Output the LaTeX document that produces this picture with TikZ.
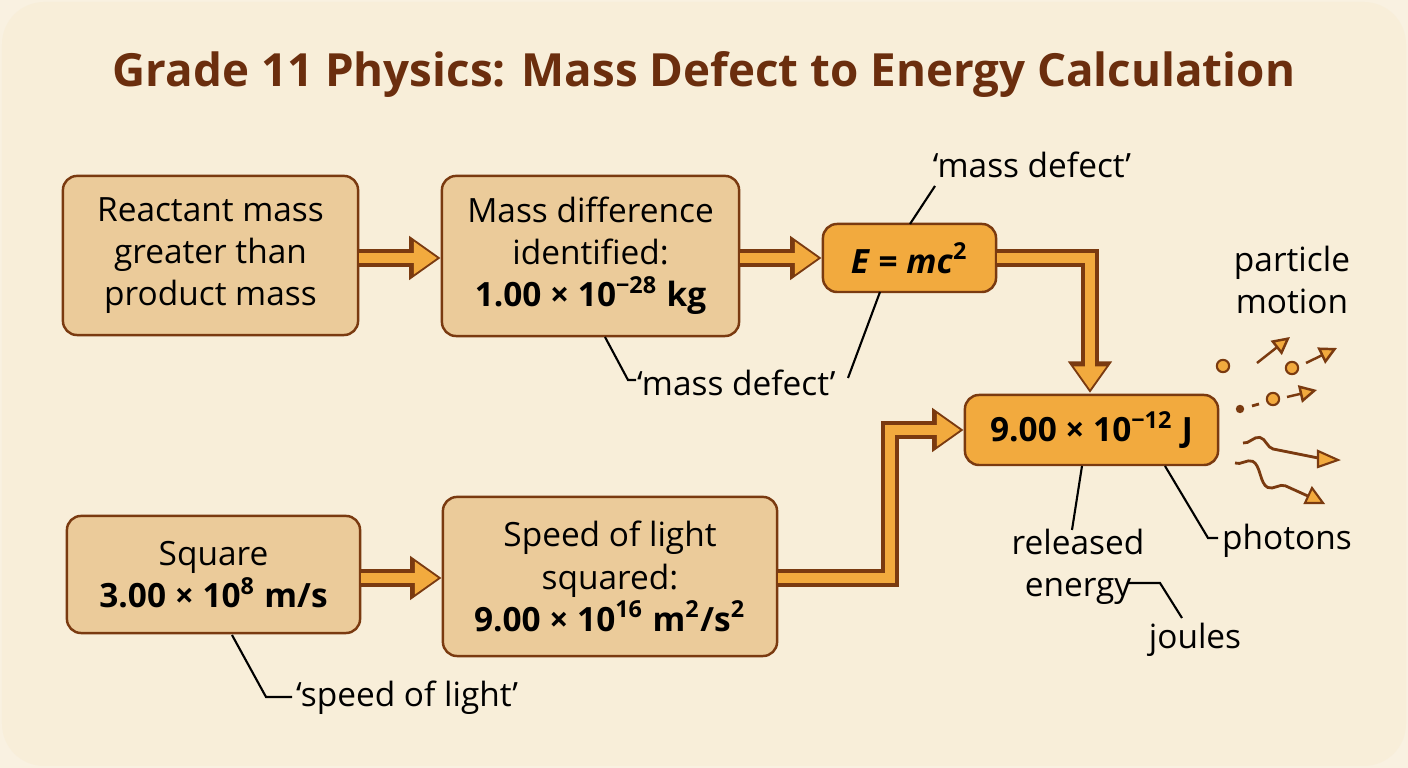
\documentclass[tikz,border=0pt]{standalone}
\usepackage{fontspec}
\setmainfont{Open Sans}
\usetikzlibrary{arrows.meta,decorations.pathmorphing}
\definecolor{bg}{HTML}{F8EED9}
\definecolor{tan}{HTML}{EBCB9A}
\definecolor{org}{HTML}{F2AA3E}
\definecolor{brn}{HTML}{7A3A10}
\definecolor{ttl}{HTML}{6B2E0E}
\begin{document}
\begin{tikzpicture}[x=0.01cm,y=-0.01cm,
  box/.style={draw=brn,line width=0.7pt,rounded corners=4pt,fill=tan,align=center,font=\fontsize{9.5}{12}\selectfont,inner sep=0pt},
  obox/.style={box,fill=org},
  fat/.style={line width=5pt,brn,-{Triangle[length=9pt,width=12pt]}},
  fatin/.style={line width=3pt,org,-{Triangle[length=6.6pt,width=8.8pt]},shorten >=1pt},
  lead/.style={line width=0.6pt,black},
  lab/.style={font=\fontsize{9.5}{12}\selectfont,align=center,inner sep=1pt},
  pt/.style={circle,draw=brn,fill=org,line width=0.6pt,minimum size=3.5pt,inner sep=0pt},
  small/.style={brn,line width=0.7pt,-{Triangle[length=5pt,width=5pt,fill=org]}}]
\fill[bg!80!white] (0,0) rectangle (1408,768);
\fill[bg,rounded corners=12pt] (2,2) rectangle (1406,766);
\node[font=\bfseries\fontsize{13}{15}\selectfont,text=ttl] (title) at (704,75) {Grade 11 Physics: Mass Defect to Energy Calculation};
\node[box,minimum width=2.95cm,minimum height=1.59cm] (A) at (210.5,255.5) {Reactant mass\\greater than\\product mass};
\node[box,minimum width=2.97cm,minimum height=1.60cm] (B) at (590.5,256) {Mass difference\\identified:\\\textbf{1.00 × 10\textsuperscript{−28} kg}};
\node[obox,minimum width=1.73cm,minimum height=0.68cm] (C) at (909.5,258) {\textbf{\textit{E} = \textit{mc}\textsuperscript{2}}};
\node[obox,minimum width=2.53cm,minimum height=0.70cm] (D) at (1091.5,430) {\textbf{9.00 × 10\textsuperscript{−12} J}};
\node[box,minimum width=2.93cm,minimum height=1.17cm] (E) at (213.5,574.5) {Square\\\textbf{3.00 × 10\textsuperscript{8} m/s}};
\node[box,minimum width=3.34cm,minimum height=1.59cm] (F) at (610,576.5) {Speed of light\\squared:\\\textbf{9.00 × 10\textsuperscript{16} m\textsuperscript{2}/s\textsuperscript{2}}};
% fat arrows
\foreach \s in {fat,fatin}{
\draw[\s] (A.east|-0,258) -- (B.west|-0,258);
\draw[\s] (B.east|-0,258) -- (C.west|-0,258);
\draw[\s] (C.east) -- (1090,258) -- (1090,393);
\draw[\s] (F.east|-0,578) -- (890,578) -- (890,430) -- (D.west);
\draw[\s] (E.east|-0,578) -- (F.west|-0,578);
}
% labels
\node[lab] (md1) at (1032,165) {‘mass defect’};
\draw[lead] (910,224) -- (935,186);
\node[lab,anchor=west] (md2) at (633,383) {‘mass defect’};
\draw[lead] (605,337) -- (628,380) -- (636,380);
\draw[lead] (880,292) -- (848,378);
\node[lab,anchor=west] (sl) at (292,698) {‘speed of light’};
\draw[lead] (232,635) -- (266,697) -- (292,697);
\node[lab] (re) at (1078,567) {released\\energy};
\draw[lead] (1082,466) -- (1072,530);
\node[lab,anchor=west] (ph) at (1218,541) {photons};
\draw[lead] (1165,466) -- (1208,538) -- (1218,538);
\node[lab] (jo) at (1195,640) {joules};
\draw[lead] (1128,583) -- (1160,583) -- (1182,618);
\node[lab] (pm) at (1292,280) {particle\\motion};
% particles
\node[pt] (p1) at (1223,366) {};
\node[pt] (p2) at (1292,368) {};
\node[pt] (p3) at (1273,399) {};
\draw[small] (1257,363) -- (1290,337);
\draw[small] (1306,363) -- (1337,348);
\draw[small] (1287,397) -- (1317,390);
\fill[brn] (1240,409) circle (1.2pt);
\draw[brn,line width=0.8pt] (1252,406) -- (1259,404);
\draw[brn,line width=0.8pt,decorate,decoration={snake,amplitude=2.5pt,segment length=14pt,post length=6pt}] (1243,443) -- (1318,458);
\fill[org,draw=brn,line width=0.6pt] (1318,451)--(1338,460)--(1318,467)--cycle;
\draw[brn,line width=0.8pt,decorate,decoration={snake,amplitude=2.5pt,segment length=14pt,post length=6pt}] (1235,463) -- (1310,497);
\fill[org,draw=brn,line width=0.6pt] (1312,488)--(1323,503)--(1305,503)--cycle;
\end{tikzpicture}
\end{document}
